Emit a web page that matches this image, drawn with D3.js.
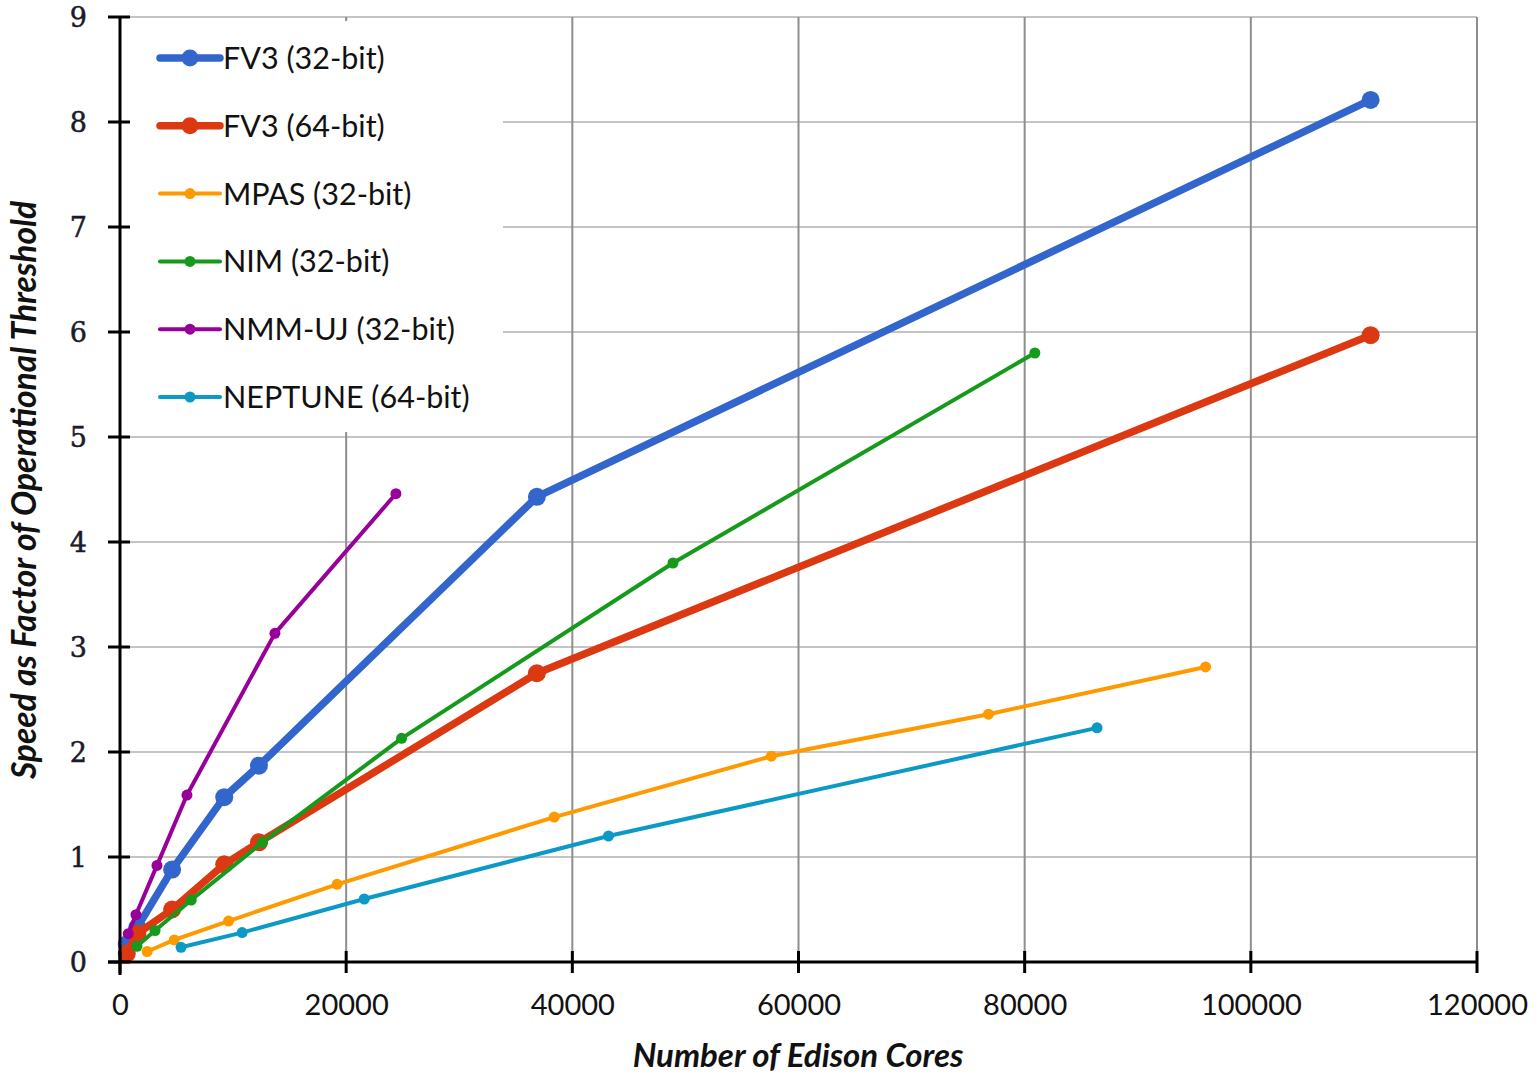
<!DOCTYPE html>
<html><head><meta charset="utf-8">
<script src="https://cdn.jsdelivr.net/npm/d3@7"></script>
<style>body{margin:0;background:#fff}svg{display:block}</style>
</head><body>
<svg id="c" width="1536" height="1073"></svg>
<script>
const seriesNames = ["FV3 (32-bit)","FV3 (64-bit)","MPAS (32-bit)","NIM (32-bit)","NMM-UJ (32-bit)","NEPTUNE (64-bit)"];
const seriesColors = ["#3366cc","#dc3912","#ff9900","#169a1c","#990099","#0c99c6"];
const fv3_32_x = [600,1536,4608,9216,12288,36864,110592];
const fv3_32_y = [0.17,0.33,0.88,1.57,1.87,4.43,8.21];
const fv3_64_x = [600,1536,4608,9216,12288,36864,110592];
const fv3_64_y = [0.08,0.27,0.50,0.93,1.14,2.75,5.97];
const mpas_x = [2400,4800,9600,19200,38400,57600,76800,96000];
const mpas_y = [0.10,0.21,0.39,0.74,1.38,1.96,2.36,2.81];
const nim_x = [1500,3100,6300,12600,24900,48900,80900];
const nim_y = [0.15,0.30,0.59,1.14,2.13,3.80,5.80];
const nmm_x = [730,1410,3270,5920,13700,24400];
const nmm_y = [0.27,0.45,0.92,1.59,3.13,4.46];
const nep_x = [5400,10800,21600,43200,86400];
const nep_y = [0.14,0.28,0.60,1.20,2.23];
const xTicks = [0,20000,40000,60000,80000,100000,120000];
const yTicks = [0,1,2,3,4,5,6,7,8,9];
const xTitle = "Number of Edison Cores";
const yTitle = "Speed as Factor of Operational Threshold";

const seriesX = [fv3_32_x,fv3_64_x,mpas_x,nim_x,nmm_x,nep_x];
const seriesY = [fv3_32_y,fv3_64_y,mpas_y,nim_y,nmm_y,nep_y];
const thick = [true,true,false,false,false,false];

const L=120,R=1477,T=17,B=962;
const svg=d3.select("#c");
const x=d3.scaleLinear().domain([0,120000]).range([L,R]);
const y=d3.scaleLinear().domain([0,9]).range([B,T]);

// gridlines
const g=svg.append("g");
g.selectAll("line.h").data(yTicks.filter(d=>d>0)).join("line")
 .attr("x1",L).attr("x2",R).attr("y1",d=>y(d)).attr("y2",d=>y(d))
 .attr("stroke","#c4c4c4").attr("stroke-width",2);
g.selectAll("line.v").data(xTicks.filter(d=>d>0)).join("line")
 .attr("x1",d=>x(d)).attr("x2",d=>x(d)).attr("y1",T).attr("y2",B)
 .attr("stroke","#8e8e8e").attr("stroke-width",2);

// legend background box
svg.append("rect").attr("x",L+2).attr("y",T+4).attr("width",381).attr("height",411).attr("fill","#fff");

// series
const line=d3.line().x(d=>x(d[0])).y(d=>y(d[1]));
seriesNames.forEach((n,i)=>{
  const pts=seriesX[i].map((v,j)=>[v,seriesY[i][j]]);
  const sg=svg.append("g");
  sg.append("path").attr("d",line(pts)).attr("fill","none").attr("stroke",seriesColors[i])
    .attr("stroke-width",thick[i]?7.5:4).attr("stroke-linejoin","round");
  sg.selectAll("circle").data(pts).join("circle").attr("cx",d=>x(d[0])).attr("cy",d=>y(d[1]))
    .attr("r",thick[i]?9:5.5).attr("fill",seriesColors[i]);
});

// axes
const ya=svg.append("g").attr("transform",`translate(${L},0)`)
  .call(d3.axisLeft(y).tickValues(yTicks).tickSize(0).tickFormat(d3.format("d")));
ya.select(".domain").remove();
ya.selectAll("text").attr("x",-33).attr("dy","0.36em").attr("font-family","'DejaVu Serif', serif")
  .attr("font-size",27).attr("stroke","#1a1a2a").attr("stroke-width",0.5).attr("fill","#1a1a2a");
svg.append("g").selectAll("line").data(yTicks).join("line")
  .attr("x1",L-12).attr("x2",L+10).attr("y1",d=>y(d)).attr("y2",d=>y(d)).attr("stroke","#000").attr("stroke-width",3);
const xa=svg.append("g").attr("transform",`translate(0,${B})`)
  .call(d3.axisBottom(x).tickValues(xTicks).tickSize(0).tickFormat(d3.format("d")));
xa.select(".domain").remove();
xa.selectAll("text").attr("y",32).attr("font-family","Lato, 'Open Sans', sans-serif")
  .attr("font-size",29).attr("fill","#111");
svg.append("g").selectAll("line").data(xTicks).join("line")
  .attr("x1",d=>x(d)).attr("x2",d=>x(d)).attr("y1",B-11).attr("y2",B+11).attr("stroke","#000").attr("stroke-width",3);
svg.append("line").attr("x1",L).attr("x2",L).attr("y1",T-1).attr("y2",B+13).attr("stroke","#000").attr("stroke-width",3);
svg.append("line").attr("x1",L-12).attr("x2",R+1).attr("y1",B).attr("y2",B).attr("stroke","#000").attr("stroke-width",3);

// titles
svg.append("text").attr("x",798).attr("y",1067).attr("text-anchor","middle")
  .attr("font-family","Lato, 'Open Sans', sans-serif").attr("font-style","italic").attr("font-weight","bold")
  .attr("font-size",33).attr("fill","#111").text(xTitle);
svg.append("text").attr("transform","translate(36,490) rotate(-90)").attr("text-anchor","middle")
  .attr("font-family","Lato, 'Open Sans', sans-serif").attr("font-style","italic").attr("font-weight","bold")
  .attr("font-size",33.5).attr("fill","#111").text(yTitle);

// legend
const lg=svg.append("g");
seriesNames.forEach((n,i)=>{
  const yy=58+i*67.8;
  lg.append("line").attr("x1",160).attr("x2",220).attr("y1",yy).attr("y2",yy)
    .attr("stroke",seriesColors[i]).attr("stroke-width",thick[i]?7.5:4).attr("stroke-linecap","round");
  lg.append("circle").attr("cx",190).attr("cy",yy).attr("r",thick[i]?8.5:5.5).attr("fill",seriesColors[i]);
  lg.append("text").attr("x",223).attr("y",yy+11).attr("font-family","Lato, 'Open Sans', sans-serif")
    .attr("font-size",30.5).attr("fill","#111").text(n);
});
</script>
</body></html>
